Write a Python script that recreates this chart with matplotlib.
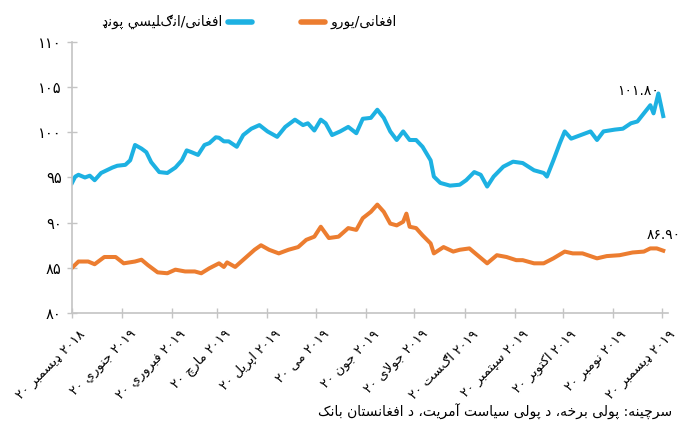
#!/usr/bin/env python3
# coding: utf-8
import re
import numpy as np
import pandas as pd
import matplotlib
matplotlib.use('Agg')
import matplotlib.pyplot as plt
import matplotlib.transforms as mtransforms
from matplotlib.lines import Line2D

# ---------------------------------------------------------------
# data
# ---------------------------------------------------------------
gbp_dates = ['2018-12-20', '2018-12-22', '2018-12-24', '2018-12-28', '2018-12-31', '2019-01-03', '2019-01-07',
             '2019-01-14', '2019-01-17', '2019-01-22', '2019-01-25', '2019-01-28', '2019-02-01', '2019-02-04',
             '2019-02-07', '2019-02-12', '2019-02-17', '2019-02-22', '2019-02-26', '2019-03-01', '2019-03-04',
             '2019-03-08', '2019-03-12', '2019-03-15', '2019-03-19', '2019-03-21', '2019-03-24', '2019-03-27',
             '2019-04-01', '2019-04-05', '2019-04-10', '2019-04-15', '2019-04-20', '2019-04-26', '2019-05-01',
             '2019-05-07', '2019-05-12', '2019-05-15', '2019-05-19', '2019-05-23', '2019-05-26', '2019-05-30',
             '2019-06-04', '2019-06-09', '2019-06-14', '2019-06-18', '2019-06-23', '2019-06-27', '2019-07-01',
             '2019-07-05', '2019-07-09', '2019-07-13', '2019-07-17', '2019-07-21', '2019-07-25', '2019-07-30',
             '2019-08-01', '2019-08-05', '2019-08-11', '2019-08-17', '2019-08-21', '2019-08-26', '2019-08-30',
             '2019-09-03', '2019-09-07', '2019-09-13', '2019-09-19', '2019-09-25', '2019-10-02', '2019-10-08',
             '2019-10-10', '2019-10-14', '2019-10-18', '2019-10-21', '2019-10-25', '2019-10-31', '2019-11-06',
             '2019-11-10', '2019-11-14', '2019-11-21', '2019-11-26', '2019-12-01', '2019-12-05', '2019-12-09',
             '2019-12-13', '2019-12-15', '2019-12-18', '2019-12-21']
gbp_vals = [94.4, 95.1, 95.3, 95.0, 95.2, 94.7, 95.5,
            96.1, 96.3, 96.4, 96.9, 98.6, 98.2, 97.8,
            96.7, 95.6, 95.5, 96.1, 96.9, 98.0, 97.8,
            97.5, 98.6, 98.8, 99.45, 99.4, 99.0, 99.0,
            98.4, 99.7, 100.4, 100.8, 100.1, 99.5, 100.6,
            101.4, 100.8, 101.0, 100.2, 101.4, 101.0, 99.7,
            100.1, 100.6, 99.9, 101.5, 101.6, 102.5, 101.6,
            100.1, 99.15, 100.1, 99.15, 99.15, 98.4, 96.9,
            95.1, 94.4, 94.1, 94.2, 94.7, 95.6, 95.3,
            94.0, 95.1, 96.2, 96.75, 96.6, 95.8, 95.5,
            95.1, 96.9, 98.8, 100.1, 99.3, 99.7, 100.1,
            99.15, 100.1, 100.3, 100.4, 101.0, 101.2, 102.1,
            103.0, 102.1, 104.3, 101.8]

eur_dates = ['2018-12-20', '2018-12-24', '2018-12-30', '2019-01-03', '2019-01-09', '2019-01-16', '2019-01-21',
             '2019-01-28', '2019-02-01', '2019-02-05', '2019-02-11', '2019-02-17', '2019-02-22', '2019-02-28',
             '2019-03-06', '2019-03-10', '2019-03-15', '2019-03-21', '2019-03-24', '2019-03-26', '2019-03-31',
             '2019-04-06', '2019-04-12', '2019-04-16', '2019-04-21', '2019-04-27', '2019-05-03', '2019-05-09',
             '2019-05-14', '2019-05-19', '2019-05-23', '2019-05-28', '2019-06-03', '2019-06-09', '2019-06-14',
             '2019-06-18', '2019-06-23', '2019-06-27', '2019-07-01', '2019-07-05', '2019-07-09', '2019-07-13',
             '2019-07-15', '2019-07-17', '2019-07-21', '2019-07-25', '2019-07-30', '2019-08-01', '2019-08-07',
             '2019-08-13', '2019-08-17', '2019-08-23', '2019-08-28', '2019-09-03', '2019-09-09', '2019-09-15',
             '2019-09-21', '2019-09-25', '2019-10-02', '2019-10-08', '2019-10-14', '2019-10-21', '2019-10-26',
             '2019-11-01', '2019-11-10', '2019-11-16', '2019-11-24', '2019-12-02', '2019-12-09', '2019-12-13',
             '2019-12-17', '2019-12-21']
eur_vals = [85.0, 85.7, 85.7, 85.4, 86.2, 86.2, 85.5,
            85.7, 85.9, 85.3, 84.5, 84.4, 84.8, 84.6,
            84.6, 84.4, 84.95, 85.5, 85.1, 85.6, 85.1,
            86.05, 87.0, 87.5, 87.0, 86.6, 87.0, 87.3,
            88.1, 88.45, 89.55, 88.3, 88.45, 89.4, 89.2,
            90.5, 91.2, 92.0, 91.2, 89.9, 89.7, 90.1,
            91.0, 89.55, 89.4, 88.6, 87.7, 86.6, 87.3,
            86.8, 87.0, 87.15, 86.4, 85.5, 86.4, 86.2,
            85.85, 85.85, 85.5, 85.5, 86.05, 86.8, 86.6,
            86.6, 86.05, 86.3, 86.4, 86.7, 86.8, 87.15,
            87.15, 86.9]

tick_dates = ['2018-12-20', '2019-01-20', '2019-02-20', '2019-03-20', '2019-04-20', '2019-05-20', '2019-06-20',
              '2019-07-20', '2019-08-20', '2019-09-20', '2019-10-20', '2019-11-20', '2019-12-20']
tick_labels = ['۲۰ ډیسمبر ۲۰۱۸', '۲۰ جنوري ۲۰۱۹', '۲۰ فبروري ۲۰۱۹', '۲۰ مارچ ۲۰۱۹', '۲۰ اپریل ۲۰۱۹',
               '۲۰ می ۲۰۱۹', '۲۰ جون ۲۰۱۹', '۲۰ جولای ۲۰۱۹', '۲۰ اګست ۲۰۱۹', '۲۰ سپتمبر ۲۰۱۹',
               '۲۰ اکتوبر ۲۰۱۹', '۲۰ نومبر ۲۰۱۹', '۲۰ ډیسمبر ۲۰۱۹']
y_ticks = [80, 85, 90, 95, 100, 105, 110]

gbp_name = 'افغانی/انګلیسي پونډ'
eur_name = 'افغانی/یورو'
gbp_last = '۱۰۱.۸۰'
eur_last = '۸۶.۹۰'
source = 'سرچینه: پولی برخه، د پولی سیاست آمریت، د افغانستان بانک'

c_gbp = '#1db1e2'
c_eur = '#ec7d30'
c_axis = '#c4c4c4'

# ---------------------------------------------------------------
# matplotlib has no arabic shaping, so do the joining by hand
# (presentation forms: isolated, final, initial, medial)
# ---------------------------------------------------------------
DUAL = {'ب': 0xFE8F, 'ت': 0xFE95, 'ث': 0xFE99, 'ج': 0xFE9D, 'ح': 0xFEA1, 'خ': 0xFEA5, 'س': 0xFEB1,
        'ش': 0xFEB5, 'ص': 0xFEB9, 'ض': 0xFEBD, 'ط': 0xFEC1, 'ظ': 0xFEC5, 'ع': 0xFEC9, 'غ': 0xFECD,
        'ف': 0xFED1, 'ق': 0xFED5, 'ك': 0xFED9, 'ل': 0xFEDD, 'م': 0xFEE1, 'ن': 0xFEE5, 'ه': 0xFEE9,
        'ي': 0xFEF1, 'پ': 0xFB56, 'چ': 0xFB7A, 'ک': 0xFB8E, 'گ': 0xFB92, 'ی': 0xFBFC}
RIGHT = {'ا': 0xFE8D, 'آ': 0xFE81, 'د': 0xFEA9, 'ذ': 0xFEAB, 'ر': 0xFEAD, 'ز': 0xFEAF, 'و': 0xFEED,
         'ژ': 0xFB8A}
DUAL_NOFORM = set('ګټښځڼ')
RIGHT_NOFORM = set('ډړږ')


def joins_next(ch):
    return ch in DUAL or ch in DUAL_NOFORM


def joins_prev(ch):
    return ch in DUAL or ch in RIGHT or ch in DUAL_NOFORM or ch in RIGHT_NOFORM


def shape(s):
    out = []
    i = 0
    while i < len(s):
        c = s[i]
        prev = s[i - 1] if i > 0 else ''
        nxt = s[i + 1] if i + 1 < len(s) else ''
        from_prev = joins_next(prev) and joins_prev(c)
        if c == 'ل' and nxt in ('ا', 'آ') and nxt != '':
            base = 0xFEFB if nxt == 'ا' else 0xFEF5
            out.append(chr(base + (1 if from_prev else 0)))
            i += 2
            continue
        to_next = joins_next(c) and nxt != '' and joins_prev(nxt)
        if c in DUAL:
            k = (3 if from_prev else 2) if to_next else (1 if from_prev else 0)
            out.append(chr(DUAL[c] + k))
        elif c in RIGHT:
            out.append(chr(RIGHT[c] + (1 if from_prev else 0)))
        else:
            out.append(c)
        i += 1
    return ''.join(out)


def rtl(s):
    # visual order for a right-to-left line, numbers keep their order
    tokens = re.findall(r'[۰-۹0-9.]+|.', shape(s))
    return ''.join(reversed(tokens))


def fa_digits(n):
    return str(n).translate(str.maketrans('0123456789', '۰۱۲۳۴۵۶۷۸۹'))


# ---------------------------------------------------------------
# plot
# ---------------------------------------------------------------
plt.rcParams['font.family'] = ['DejaVu Sans']

fig = plt.figure(figsize=(6.82, 4.40), dpi=100)
ax = fig.add_axes([0.1056, 0.2886, 0.874, 0.616])

ax.plot(pd.to_datetime(gbp_dates), gbp_vals, color=c_gbp, lw=2.9, solid_joinstyle='round')
ax.plot(pd.to_datetime(eur_dates), eur_vals, color=c_eur, lw=2.9, solid_joinstyle='round')

ax.set_ylim(80, 110)
ax.set_xlim(pd.Timestamp('2018-12-20'), pd.Timestamp('2019-12-24'))

ax.set_yticks(y_ticks)
ax.set_yticklabels([fa_digits(v) for v in y_ticks], fontsize=10.5)
ax.set_xticks(pd.to_datetime(tick_dates))
ax.set_xticklabels([' '.join(rtl(w) for w in lab.split(' ')) for lab in tick_labels],
                   rotation=45, ha='right', rotation_mode='anchor', fontsize=9.5)

for side in ['top', 'right']:
    ax.spines[side].set_visible(False)
for side in ['left', 'bottom']:
    ax.spines[side].set_color(c_axis)
    ax.spines[side].set_linewidth(1.2)
ax.tick_params(direction='inout', length=7, width=1, color=c_axis)
ax.tick_params(axis='y', pad=4)
ax.tick_params(axis='x', pad=7)

# nudge the slanted date labels a little to the right, as in the original
shift = mtransforms.ScaledTranslation(5 / 72, 0, fig.dpi_scale_trans)
for lab in ax.get_xticklabels():
    lab.set_transform(lab.get_transform() + shift)

# end-of-series values
ax.annotate(gbp_last, (pd.Timestamp(gbp_dates[-1]), gbp_vals[-1]), xytext=(-18, 18),
            textcoords='offset points', ha='center', va='center', fontsize=10)
ax.annotate(eur_last, (pd.Timestamp(eur_dates[-1]), eur_vals[-1]), xytext=(0, 11),
            textcoords='offset points', ha='center', va='center', fontsize=10)

# legend drawn by hand (right-to-left layout)
W, H = 682.0, 440.0
fig.add_artist(Line2D([228 / W, 252 / W], [1 - 22 / H, 1 - 22 / H], color=c_gbp, lw=4,
                      solid_capstyle='round'))
fig.text(222 / W, 1 - 22 / H, rtl(gbp_name), ha='right', va='center', fontsize=10)
fig.add_artist(Line2D([301 / W, 325 / W], [1 - 22 / H, 1 - 22 / H], color=c_eur, lw=4,
                      solid_capstyle='round'))
fig.text(331 / W, 1 - 22 / H, rtl(eur_name), ha='left', va='center', fontsize=10)

fig.text(672 / W, 1 - 412 / H, rtl(source), ha='right', va='center', fontsize=10)

fig.savefig('out.png', dpi=100)
